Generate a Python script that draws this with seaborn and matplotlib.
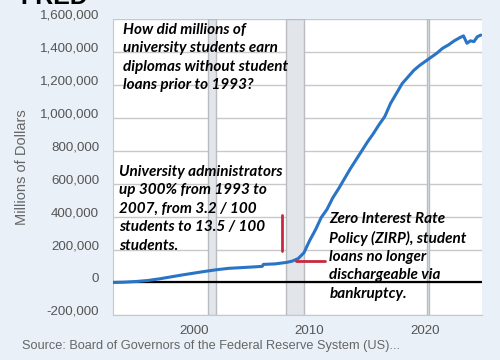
import matplotlib
matplotlib.use("Agg")
import matplotlib.pyplot as plt
import matplotlib.transforms as mtransforms
import seaborn as sns
import pandas as pd

# student loans outstanding, millions of dollars
years = [1993.0, 1994.0, 1995.0, 1996.0, 1997.0, 1998.0, 1999.0, 2000.0,
         2001.0, 2002.0, 2003.0, 2004.0, 2005.0, 2005.9, 2006.0, 2007.0,
         2008.0, 2008.5, 2009.0, 2009.5, 2010.0, 2010.5, 2011.0, 2011.5,
         2012.0, 2012.5, 2013.0, 2013.5, 2014.0, 2014.5, 2015.0, 2015.5,
         2016.0, 2016.5, 2017.0, 2017.5, 2018.0, 2018.5, 2019.0, 2019.5,
         2020.0, 2020.5, 2021.0, 2021.5, 2022.0, 2022.5, 2023.0, 2023.3,
         2023.6, 2023.9, 2024.2, 2024.5, 2024.8]
loans = [0, 2000, 6000, 12000, 22000, 34000, 46000, 57000,
         68000, 78000, 86000, 90000, 94000, 98000, 110000, 113000,
         122000, 130000, 145000, 180000, 255000, 320000, 395000, 445000,
         515000, 570000, 630000, 690000, 745000, 800000, 855000, 905000,
         960000, 1010000, 1090000, 1150000, 1210000, 1250000, 1290000, 1320000,
         1345000, 1370000, 1395000, 1425000, 1445000, 1470000, 1490000, 1500000,
         1455000, 1470000, 1465000, 1495000, 1505000]

recessions = [(2001.17, 2001.92), (2007.92, 2009.5), (2020.12, 2020.33)]
y_ticks = [-200000, 0, 200000, 400000, 600000, 800000, 1000000, 1200000, 1400000, 1600000]
x_ticks = [2000, 2010, 2020]

note_top = "How did millions of\nuniversity students earn\ndiplomas without student\nloans prior to 1993?"
note_admin = ("University administrators\nup 300% from 1993 to\n2007, from 3.2 / 100\n"
              "students to 13.5 / 100\nstudents.")
note_zirp = ("Zero Interest Rate\nPolicy (ZIRP), student\nloans no longer\n"
             "dischargeable via\nbankruptcy.")

df = pd.DataFrame({"year": years, "loans": loans})

sns.set_style("white")
plt.rcParams["font.family"] = ["Liberation Sans", "DejaVu Sans"]

bg = "#e9f0f7"
fig = plt.figure(figsize=(5, 3.6), dpi=100, facecolor=bg)
ax = fig.add_axes([0.226, 0.124, 0.738, 0.822])
ax.set_facecolor("white")

for start, end in recessions:
    ax.axvspan(start, end, facecolor="#e2e5e9", edgecolor="#b9bdc1", lw=1, zorder=1)

sns.lineplot(data=df, x="year", y="loans", color="#2a74c6", lw=2.2, ax=ax, zorder=4)
ax.axhline(0, color="black", lw=1.6, zorder=3)

# red markers
ax.plot([2007.6, 2007.6], [190000, 412000], color="#c8283f", lw=2, zorder=5)
ax.plot([2008.8, 2011.3], [133000, 133000], color="#c8283f", lw=2, zorder=5)

ax.set_xlim(1993, 2024.9)
ax.set_ylim(-200000, 1600000)
ax.set_yticks(y_ticks)
ax.set_yticklabels([f"{v:,}" for v in y_ticks])
ax.set_xticks(x_ticks)
ax.yaxis.grid(True, color="#c8c8c8", lw=1)
ax.set_axisbelow(True)
ax.tick_params(length=0, colors="#555555", labelsize=9.6)
ax.tick_params(axis="y", pad=10)
ax.tick_params(axis="x", pad=7)
for lab in ax.get_yticklabels():
    lab.set_transform(lab.get_transform() + mtransforms.ScaledTranslation(0, 5 / 100, fig.dpi_scale_trans))
for s in ["top", "right"]:
    ax.spines[s].set_visible(False)
ax.spines["left"].set_color("#c8c8c8")
ax.spines["bottom"].set_color("#c8c8c8")

ax.set_xlabel("")
ax.set_ylabel("Millions of Dollars", color="#666666", fontsize=10.5, labelpad=8)

note_font = dict(family=["Lato", "DejaVu Sans"], weight="bold", style="italic",
                 fontsize=11, color="black", linespacing=1.4, zorder=6)
ax.text(1993.85, 1580000, note_top, va="top", ha="left", **note_font)
ax.text(1993.5, 715000, note_admin, va="top", ha="left", **note_font)
ax.text(2011.7, 430000, note_zirp, va="top", ha="left", **note_font)

# logo at the top, cut off by the edge as in the screenshot
fig.text(0.04, 1 - 4 / 360, "FRED", fontsize=18, weight="bold", color="black", va="baseline", ha="left")
fig.text(0.044, 0.04, "Source: Board of Governors of the Federal Reserve System (US)...",
         fontsize=9.2, color="#666666", ha="left", va="center")

fig.savefig("out.png", dpi=100, facecolor=bg)
